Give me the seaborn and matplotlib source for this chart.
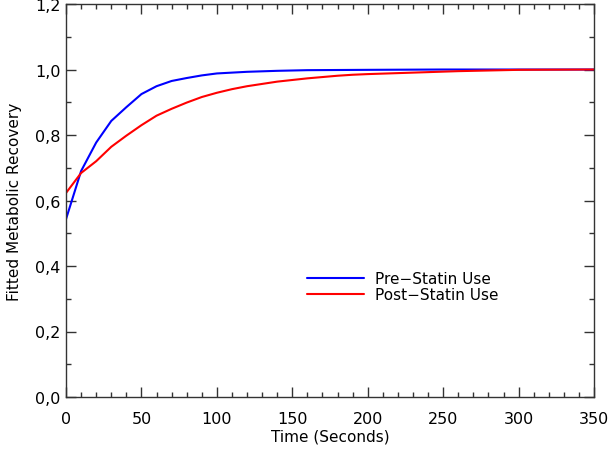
import numpy as np
import pandas as pd
import matplotlib
matplotlib.use("Agg")
import matplotlib.pyplot as plt
import seaborn as sns
from matplotlib.ticker import MultipleLocator, FuncFormatter

# valeurs
time_pre = [0, 10, 20, 30, 40, 50, 60, 70, 80, 90, 100, 120, 140, 160, 200, 250, 300, 350]
recovery_pre = [0.543, 0.69, 0.777, 0.843, 0.885, 0.925, 0.949, 0.965, 0.974, 0.982,
                0.988, 0.993, 0.996, 0.998, 0.999, 1.0, 1.0, 1.0]

time_post = [0, 10, 20, 30, 40, 50, 60, 70, 80, 90, 100, 110, 120, 130, 140, 150, 160,
             170, 180, 190, 200, 220, 240, 260, 280, 300, 350]
recovery_post = [0.623, 0.684, 0.72, 0.764, 0.798, 0.83, 0.859, 0.88, 0.899, 0.916, 0.929,
                 0.94, 0.949, 0.956, 0.963, 0.968, 0.973, 0.977, 0.981, 0.984, 0.986,
                 0.989, 0.992, 0.995, 0.997, 0.999, 1.0]

labels = ["Pre\u2212Statin Use", "Post\u2212Statin Use"]
colors = ["#0000ff", "#ff0000"]

df = pd.concat([
    pd.DataFrame({"time": time_pre, "recovery": recovery_pre, "group": labels[0]}),
    pd.DataFrame({"time": time_post, "recovery": recovery_post, "group": labels[1]}),
])

sns.set_style("ticks")
plt.rcParams["font.family"] = ["DejaVu Sans"]
plt.rcParams["text.color"] = "black"
plt.rcParams["axes.labelcolor"] = "black"

fig = plt.figure(figsize=(6.14, 4.56), dpi=100)
ax = fig.add_axes([0.1075, 0.1272, 0.86, 0.8618])

sns.lineplot(data=df, x="time", y="recovery", hue="group", palette=colors,
             hue_order=labels, linewidth=1.5, ax=ax, estimator=None, sort=False)

ax.set_xlim(0, 350)
ax.set_ylim(0, 1.2)
ax.xaxis.set_major_locator(MultipleLocator(50))
ax.xaxis.set_minor_locator(MultipleLocator(10))
ax.yaxis.set_major_locator(MultipleLocator(0.2))
ax.yaxis.set_minor_locator(MultipleLocator(0.1))
ax.yaxis.set_major_formatter(FuncFormatter(lambda v, p: f"{v:.1f}".replace(".", ",")))

ax.tick_params(which="both", direction="in", top=True, right=True, colors="#333333",
               labelcolor="black", width=1, labelsize=11.5)
ax.tick_params(which="major", length=7)
ax.tick_params(which="minor", length=3.5)
ax.tick_params(axis="x", which="major", pad=10)
ax.tick_params(axis="y", which="major", pad=4)
for s in ax.spines.values():
    s.set_color("#333333")
    s.set_linewidth(1)

ax.set_xlabel("Time (Seconds)", fontsize=11, labelpad=2)
ax.set_ylabel("Fitted Metabolic Recovery", fontsize=11, labelpad=9)

ax.legend(loc="upper left", bbox_to_anchor=(0.445, 0.335), frameon=False, fontsize=11,
          handlelength=3.7, handletextpad=0.75, labelspacing=0.05, borderaxespad=0)

fig.savefig("out.png", dpi=100)
